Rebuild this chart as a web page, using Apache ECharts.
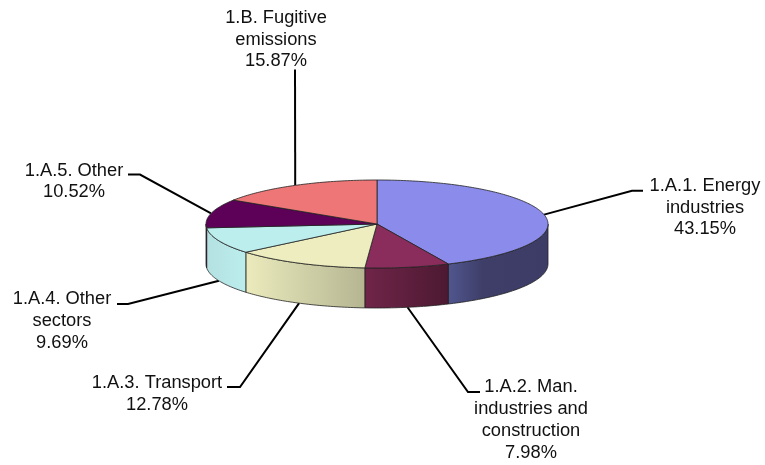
<!DOCTYPE html>
<html>
<head>
<meta charset="utf-8">
<style>html,body{margin:0;padding:0;background:#fff}#c{width:765px;height:465px}</style>
<script src="https://cdn.jsdelivr.net/npm/echarts@6/dist/echarts.min.js"></script>
</head>
<body>
<div id="c"></div>
<script>
// Data
const categories = [
  '1.A.1. Energy\nindustries',
  '1.A.2. Man.\nindustries and\nconstruction',
  '1.A.3. Transport',
  '1.A.4. Other\nsectors',
  '1.A.5. Other',
  '1.B. Fugitive\nemissions'
];
const values = [43.15, 7.98, 12.78, 9.69, 10.52, 15.87];

// Styles
const topColors = ['#8B8BEB', '#8A2D5C', '#EDEDBF', '#BCEEEE', '#5C0058', '#EE7676'];
const sideStops = [
  [[0, '#50568F'], [0.35, '#3E3E68'], [1, '#3C3C66']],
  [[0, '#702548'], [1, '#4C1932']],
  [[0, '#EBEBBD'], [1, '#B5B592']],
  [[0, '#B4E0E0'], [1, '#BCEEEE']],
  [[0, '#5C0058'], [1, '#5C0058']],
  [[0, '#EE7676'], [1, '#EE7676']]
];

// Layout
const CX = 377, CY = 224, RX = 171, RY = 44, DEPTH = 40;
const FONT = '18.3px "Liberation Sans", Arial, sans-serif';
const LINE_H = 21.7;
const labelCentre = [[705, 207.5], [531, 420], [157, 394], [62, 321], [74, 181.5], [276, 39.5]];
const elbows = [
  [[632, 190.7], [643, 190.7]],
  [[468, 392], [480, 392]],
  [[240, 387], [227, 387]],
  [[128, 304], [117, 304]],
  [[140, 174.5], [128, 174.5]],
  [[295, 69.5]]
];

const total = values.reduce((a, b) => a + b, 0);
const rimPoint = (deg, dy) => {
  const r = deg * Math.PI / 180;
  return [CX + RX * Math.sin(r), CY - RY * Math.cos(r) + dy];
};
const arcPoints = (a0, a1, dy) => {
  const n = Math.max(2, Math.ceil(Math.abs(a1 - a0)));
  const out = [];
  for (let i = 0; i <= n; i++) out.push(rimPoint(a0 + (a1 - a0) * i / n, dy));
  return out;
};

function renderItem(params, api) {
  const i = params.dataIndex;
  const v = api.value(0);
  const before = values.slice(0, i).reduce((a, b) => a + b, 0);
  const a0 = before / total * 360;
  const a1 = a0 + v / total * 360;
  const children = [];
  const edge = { stroke: '#222', lineWidth: 0.8 };

  // Side wall: only the part of the rim that faces the viewer.
  const s0 = Math.max(a0, 90), s1 = Math.min(a1, 270);
  if (s1 > s0) {
    const top = arcPoints(s0, s1, 0);
    const bottom = arcPoints(s1, s0, DEPTH);
    children.push({
      type: 'polygon', z2: 1,
      shape: { points: top.concat(bottom) },
      style: Object.assign({
        fill: new echarts.graphic.LinearGradient(0, 0, 1, 0,
          sideStops[i].map(s => ({ offset: s[0], color: s[1] })))
      }, edge)
    });
  }
  // Top face
  children.push({
    type: 'polygon', z2: 2,
    shape: { points: [[CX, CY]].concat(arcPoints(a0, a1, 0)) },
    style: Object.assign({ fill: topColors[i] }, edge)
  });

  // Leader line: from the rim at the slice's middle
  const mid = (a0 + a1) / 2;
  const facing = mid > 90 && mid < 270;
  const start = rimPoint(mid, facing ? DEPTH : 0);
  children.push({
    type: 'polyline', z2: 0,
    shape: { points: [start].concat(elbows[i]) },
    style: { stroke: '#000', lineWidth: 2, fill: null }
  });

  // Label
  children.push({
    type: 'text', z2: 3,
    x: labelCentre[i][0], y: labelCentre[i][1],
    style: {
      text: categories[i] + '\n' + v.toFixed(2) + '%',
      font: FONT, lineHeight: LINE_H, fill: '#111',
      align: 'center', verticalAlign: 'middle'
    }
  });
  return { type: 'group', children };
}

const chart = echarts.init(document.getElementById('c'), null, { renderer: 'canvas' });
chart.setOption({
  animation: false,
  backgroundColor: '#fff',
  series: [{
    type: 'custom',
    coordinateSystem: 'none',
    renderItem,
    data: values.map(v => [v]),
    silent: true
  }]
});
</script>
</body>
</html>
